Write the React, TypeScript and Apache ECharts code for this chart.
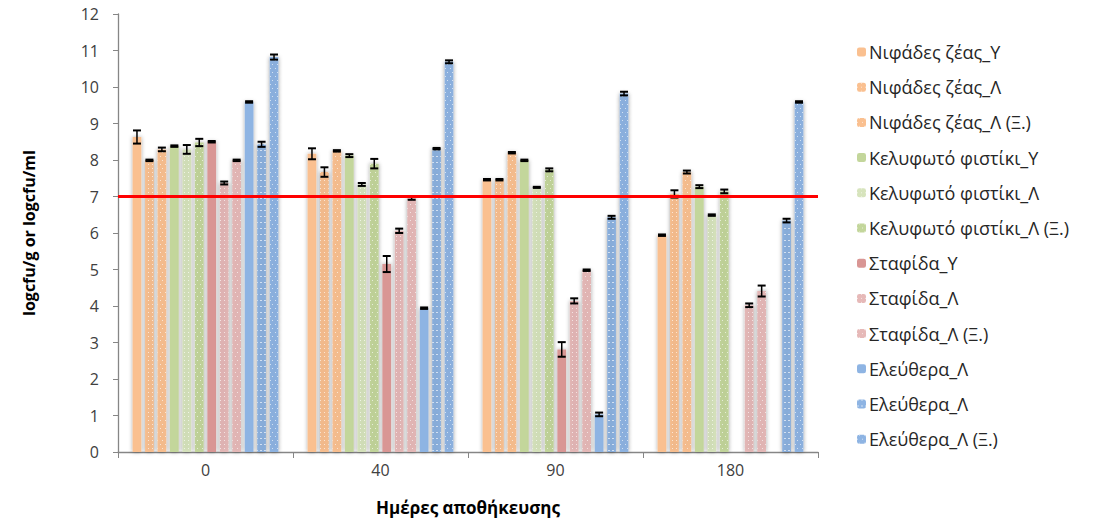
import React, { useEffect, useRef } from "react";
import * as echarts from "echarts";

const categories = ["0", "40", "90", "180"];
const yTicks = [0, 1, 2, 3, 4, 5, 6, 7, 8, 9, 10, 11, 12];
const limitValue = 7;

const seriesNames = [
  "Νιφάδες ζέας_Υ",
  "Νιφάδες ζέας_Λ",
  "Νιφάδες ζέας_Λ (Ξ.)",
  "Κελυφωτό φιστίκι_Υ",
  "Κελυφωτό φιστίκι_Λ",
  "Κελυφωτό φιστίκι_Λ (Ξ.)",
  "Σταφίδα_Υ",
  "Σταφίδα_Λ",
  "Σταφίδα_Λ (Ξ.)",
  "Ελεύθερα_Λ",
  "Ελεύθερα_Λ",
  "Ελεύθερα_Λ (Ξ.)",
];

const niY = [8.63, 8.17, 7.46, 5.94];
const niL = [7.99, 7.67, 7.46, 7.07];
const niLX = [8.29, 8.25, 8.2, 7.67];
const keY = [8.38, 8.12, 7.99, 7.27];
const keL = [8.29, 7.33, 7.25, 6.49];
const keLX = [8.48, 7.9, 7.73, 7.14];
const stY = [8.5, 5.15, 2.81, null];
const stL = [7.37, 6.06, 4.14, 4.02];
const stLX = [7.99, 6.95, 4.98, 4.41];
const elL1 = [9.59, 3.94, 1.03, null];
const elL2 = [8.43, 8.31, 6.43, 6.34];
const elLX = [10.82, 10.69, 9.82, 9.59];

const niYErr = [0.18, 0.15, 0.02, 0.02];
const niLErr = [0.02, 0.13, 0.02, 0.1];
const niLXErr = [0.05, 0.02, 0.02, 0.04];
const keYErr = [0.02, 0.04, 0.02, 0.04];
const keLErr = [0.12, 0.04, 0.01, 0.02];
const keLXErr = [0.1, 0.13, 0.04, 0.05];
const stYErr = [0.02, 0.22, 0.2, 0];
const stLErr = [0.04, 0.06, 0.07, 0.05];
const stLXErr = [0.02, 0.04, 0.02, 0.15];
const elL1Err = [0.02, 0.02, 0.05, 0];
const elL2Err = [0.07, 0.02, 0.04, 0.05];
const elLXErr = [0.07, 0.04, 0.05, 0.02];

const values = [niY, niL, niLX, keY, keL, keLX, stY, stL, stLX, elL1, elL2, elLX];
const errors = [niYErr, niLErr, niLXErr, keYErr, keLErr, keLXErr, stYErr, stLErr, stLXErr, elL1Err, elL2Err, elLXErr];

const colors = [
  "#FAC090", "#FAC090", "#FAC090",
  "#C3D69B", "#D7E4BD", "#C3D69B",
  "#D99694", "#E6B9B8", "#E6B9B8",
  "#8EB4E3", "#8EB4E3", "#8EB4E3",
];

const dotDecal = {
  symbol: "rect",
  symbolSize: 1,
  color: "rgba(255,255,255,0.6)",
  dashArrayX: [1, 3],
  dashArrayY: [1, 3],
  rotation: 0,
};
const sparseDecal = {
  symbol: "rect",
  symbolSize: 1,
  color: "rgba(255,255,255,0.6)",
  dashArrayX: [[1, 4], [0, 2, 1, 2]],
  dashArrayY: [1, 3],
  rotation: 0,
};
const dashDecal = {
  symbol: "rect",
  symbolSize: 1,
  color: "rgba(255,255,255,0.6)",
  dashArrayX: [2, 2],
  dashArrayY: [1, 5],
  rotation: 0,
};
const decals: any[] = [
  null, dotDecal, sparseDecal,
  null, dotDecal, sparseDecal,
  null, dotDecal, sparseDecal,
  null, dashDecal, sparseDecal,
];

const N = 12;
const CAT_GAP = 0.167;
const BAR_GAP = 0.43;

export default function App() {
  const ref = useRef<HTMLDivElement>(null);
  useEffect(() => {
    if (!ref.current) return;
    const chart = echarts.init(ref.current, null, { renderer: "svg" });
    const ids = seriesNames.map((n, i) => (i === 10 ? n + "#2" : n));

    const barSeries: any[] = values.map((vals, i) => {
      const s: any = {
        name: ids[i],
        type: "bar",
        data: vals.map((v) => (v === null ? "-" : v)),
        barGap: `${BAR_GAP * 100}%`,
        barCategoryGap: `${CAT_GAP * 100}%`,
        itemStyle: {
          color: colors[i],
          shadowBlur: 4,
          shadowColor: "rgba(0,0,0,0.35)",
          ...(decals[i] ? { decal: decals[i] } : {}),
        },
        z: 2,
      };
      if (i === 0) {
        s.markLine = {
          silent: true,
          symbol: ["none", "none"],
          label: { show: false },
          lineStyle: { color: "#FF0000", width: 3, type: "solid" },
          data: [{ yAxis: limitValue }],
          z: 5,
        };
      }
      return s;
    });

    const errSeries: any[] = values.map((vals, i) => ({
      type: "custom",
      z: 4,
      silent: true,
      data: vals
        .map((v, c) => (v === null ? null : [c, v, errors[i][c]]))
        .filter((d) => d !== null),
      renderItem: (params: any, api: any) => {
        const c = api.value(0);
        const v = api.value(1);
        const e = Math.max(api.value(2), 0.015);
        const band = api.size([1, 0])[0];
        const remaining = band * (1 - CAT_GAP);
        const w = remaining / (N + (N - 1) * BAR_GAP);
        const off = -remaining / 2 + i * w * (1 + BAR_GAP) + w / 2;
        const top = api.coord([c, v + e]);
        const bot = api.coord([c, v - e]);
        const x = top[0] + off;
        const cap = 4;
        const st = { stroke: "#000", lineWidth: 2 };
        return {
          type: "group",
          children: [
            { type: "line", shape: { x1: x, y1: top[1], x2: x, y2: bot[1] }, style: { stroke: "#000", lineWidth: 1.5 } },
            { type: "line", shape: { x1: x - cap, y1: top[1], x2: x + cap, y2: top[1] }, style: st },
            { type: "line", shape: { x1: x - cap, y1: bot[1], x2: x + cap, y2: bot[1] }, style: st },
          ],
        };
      },
    }));

    chart.setOption({
      animation: false,
      textStyle: { fontFamily: "'Open Sans', 'Noto Sans', sans-serif" },
      grid: { left: 118, right: 287, top: 14, bottom: 71 },
      legend: {
        orient: "vertical",
        left: 852,
        top: 37,
        itemWidth: 9,
        itemHeight: 9,
        itemGap: 15.2,
        data: ids,
        formatter: (name: string) => name.replace("#2", ""),
        textStyle: { fontSize: 18, color: "#262626", lineHeight: 20, padding: [0, 0, 0, -2] },
        selectedMode: false,
      },
      xAxis: {
        type: "category",
        data: categories,
        axisLine: { lineStyle: { color: "#868686", width: 1.3 } },
        axisTick: { show: true, length: 6, inside: false, alignWithLabel: false, lineStyle: { color: "#868686" } },
        axisLabel: { fontSize: 16, color: "#404040", margin: 10 },
        name: "Ημέρες αποθήκευσης",
        nameLocation: "middle",
        nameGap: 47,
        nameTextStyle: { fontSize: 17, fontWeight: "bold", color: "#000" },
      },
      yAxis: {
        type: "value",
        min: 0,
        max: 12,
        interval: 1,
        axisLine: { show: true, lineStyle: { color: "#868686", width: 1.3 } },
        axisTick: { show: true, length: 5, lineStyle: { color: "#868686" } },
        splitLine: { show: false },
        axisLabel: { fontSize: 16, color: "#404040", margin: 19, formatter: (v: number) => (yTicks.includes(v) ? String(v) : "") },
        name: "logcfu/g or logcfu/ml",
        nameLocation: "middle",
        nameGap: 81,
        nameTextStyle: { fontSize: 16, fontWeight: "bold", color: "#000" },
      },
      series: [...barSeries, ...errSeries],
    });
    return () => chart.dispose();
  }, []);
  return <div ref={ref} style={{ width: 1105, height: 523, position: "absolute", left: 0, top: 0 }} />;
}
